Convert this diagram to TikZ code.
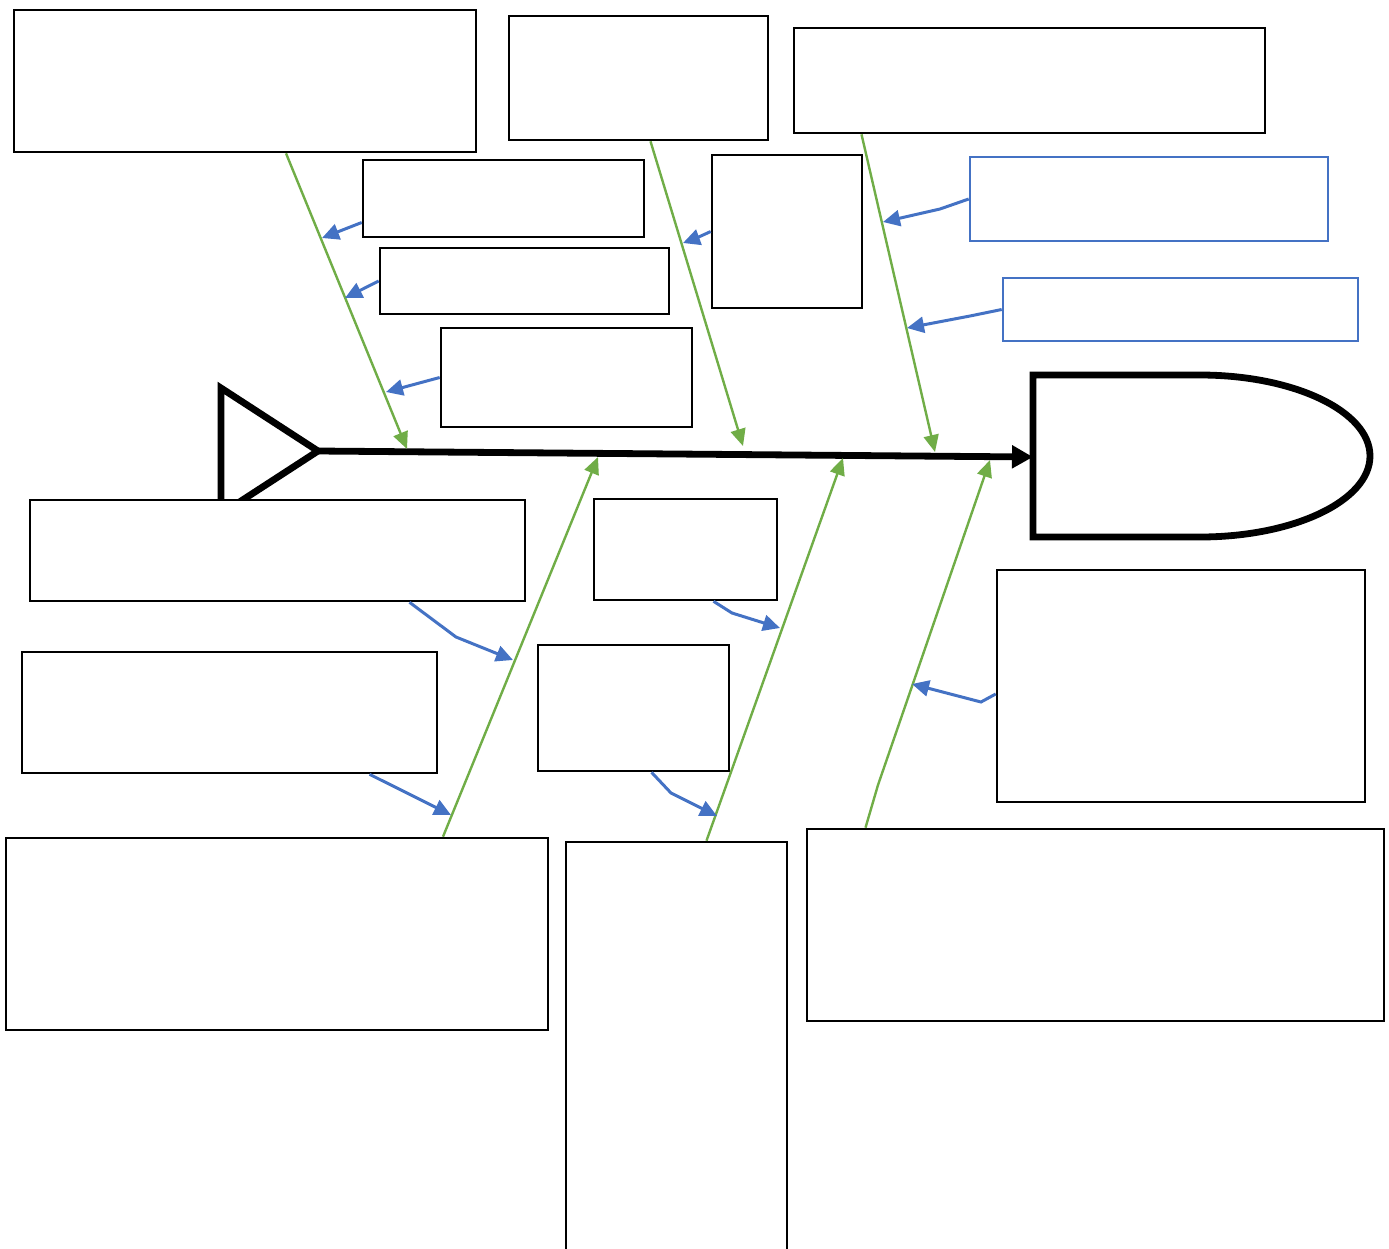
\documentclass[tikz,border=0pt]{standalone}
\usepackage{tikz}
\usetikzlibrary{arrows.meta,fit,calc}
\usepackage{xcolor}
\definecolor{fbgreen}{RGB}{112,173,71}
\definecolor{fbblue}{RGB}{68,114,196}
\tikzstyle{box} = [draw=black, line width=1.3pt, fill=white, inner sep=0pt]
\tikzstyle{bluebox} = [draw=fbblue, line width=1.3pt, fill=white, inner sep=0pt]
\tikzstyle{bone} = [line width=1.2pt, color=fbgreen, -{Triangle[length=8.5pt,width=7.5pt]}]
\tikzstyle{twig} = [line width=1.5pt, color=fbblue, -{Triangle[length=8.5pt,width=8pt]}]
\tikzstyle{spine} = [line width=3.4pt, color=black, line join=miter]

\begin{document}
\begin{tikzpicture}[x=0.5pt, y=-0.5pt]
\useasboundingbox (0,0) rectangle (1389,1249);

% Tail and head
\draw[spine] (221,388) -- (318,451) -- (221,514) -- cycle;
\draw[spine] (1200,375) -- (1033,375) -- (1033,537) -- (1200,537) arc[start angle=-90, end angle=90, x radius=85pt, y radius=40.5pt];
\coordinate (tail) at (318,451);
\coordinate (head) at (1033,457);
\draw[spine, -{Triangle[length=10.5pt,width=11pt]}] (tail) -- (head);

% Upper boxes
\node[box, fit={(14,10) (476,152)}] (t1) {};
\node[box, fit={(509,16) (768,140)}] (t2) {};
\node[box, fit={(794,28) (1265,133)}] (t3) {};
\node[box, fit={(363,160) (644,237)}] (s1) {};
\node[box, fit={(380,248) (669,314)}] (s2) {};
\node[box, fit={(441,328) (692,427)}] (s3) {};
\node[box, fit={(712,155) (862,308)}] (s4) {};
\node[bluebox, fit={(970,157) (1328,241)}] (b1) {};
\node[bluebox, fit={(1003,278) (1358,341)}] (b2) {};

% Lower boxes
\node[box, fit={(30,500) (525,601)}] (l1) {};
\node[box, fit={(22,652) (437,773)}] (l2) {};
\node[box, fit={(6,838) (548,1030)}] (l3) {};
\node[box, fit={(594,499) (777,600)}] (m1) {};
\node[box, fit={(538,645) (729,771)}] (m2) {};
\node[box, fit={(566,842) (787,1254)}] (m3) {};
\node[box, fit={(997,570) (1365,802)}] (r1) {};
\node[box, fit={(807,829) (1384,1021)}] (r2) {};

% Bones
\coordinate (g1) at (407,449);
\coordinate (g2) at (743,446);
\coordinate (g3) at (935,452);
\coordinate (g4) at (598,457);
\coordinate (g5) at (843,458);
\coordinate (g6) at (990,460);
\draw[bone] ([xshift=20.5pt]t1.south) -- (g1);
\draw[bone] ([xshift=6pt]t2.south) -- (g2);
\draw[bone] ([xshift=-84pt]t3.south) -- (g3);
\draw[bone] ([xshift=83pt]l3.north) -- (g4);
\draw[bone] ([xshift=15pt]m3.north) -- (g5);
\draw[bone] ([xshift=-115pt]r2.north) -- (878,785) -- (g6);

% Causes
\coordinate (c1) at (322,238);
\coordinate (c2) at (345,298);
\coordinate (c3) at (386,392);
\coordinate (c4) at (683,243);
\coordinate (c5) at (883,222);
\coordinate (c6) at (907,328);
\coordinate (c7) at (513,660);
\coordinate (c8) at (451,815);
\coordinate (c9) at (780,628);
\coordinate (c10) at (717,816);
\coordinate (c11) at (912,684);
\draw[twig] ([yshift=-12pt]s1.west) -- (c1);
\draw[twig] (s2.west) -- (c2);
\draw[twig] (s3.west) -- (c3);
\draw[twig] (s4.west) to[out=205, in=20] (c4);
\draw[twig] (b1.west) -- (940,209) -- (c5);
\draw[twig] (b2.west) -- (970,316) -- (c6);
\draw[twig] ([xshift=66pt]l1.south) -- (456,637) -- (c7);
\draw[twig] ([xshift=70pt]l2.south) -- (c8);
\draw[twig] ([xshift=14pt]m1.south) -- (732,613) -- (c9);
\draw[twig] ([xshift=9pt]m2.south) -- (671,793) -- (c10);
\draw[twig] ([yshift=-4pt]r1.west) -- (981,702) -- (c11);
\end{tikzpicture}
\end{document}
